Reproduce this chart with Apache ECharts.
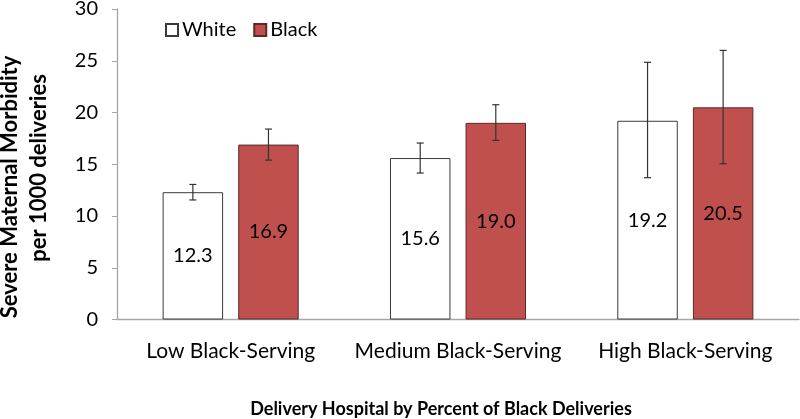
<!DOCTYPE html>
<html>
<head>
<meta charset="utf-8">
<script src="https://cdn.jsdelivr.net/npm/echarts@6/dist/echarts.min.js"></script>
<style>html,body{margin:0;padding:0;background:#fff}#c{width:800px;height:419px}</style>
</head>
<body>
<div id="c"></div>
<script>
const categories = ['Low Black-Serving', 'Medium Black-Serving', 'High Black-Serving'];
const whiteValues = [12.3, 15.6, 19.2];
const blackValues = [16.9, 19.0, 20.5];
const whiteLow = [11.55, 14.15, 13.7];
const whiteHigh = [13.05, 17.05, 24.85];
const blackLow = [15.4, 17.3, 15.05];
const blackHigh = [18.4, 20.75, 26.0];
const yTitleLines = ['Severe Maternal Morbidity', 'per 1000 deliveries'];
const xTitle = 'Delivery Hospital by Percent of Black Deliveries';

const FONT = 'Lato';
const BAR_W = 0.266, GAP = 0.25;

function errData(lo, hi) { return categories.map((c, i) => [i, lo[i], hi[i]]); }
function errSeries(lo, hi, side) {
  return {
    type: 'custom', silent: true, z: 10,
    data: errData(lo, hi),
    encode: { x: 0, y: [1, 2] },
    renderItem: function (params, api) {
      const i = api.value(0);
      const band = api.size([1, 0])[0];
      const off = side * band * BAR_W * (1 + GAP) / 2;
      const p1 = api.coord([i, api.value(1)]);
      const p2 = api.coord([i, api.value(2)]);
      const x = p1[0] + off, cap = 3.5;
      const st = { stroke: '#333', lineWidth: 1.2 };
      return { type: 'group', children: [
        { type: 'line', shape: { x1: x, y1: p1[1], x2: x, y2: p2[1] }, style: st },
        { type: 'line', shape: { x1: x - cap, y1: p1[1], x2: x + cap, y2: p1[1] }, style: st },
        { type: 'line', shape: { x1: x - cap, y1: p2[1], x2: x + cap, y2: p2[1] }, style: st }
      ]};
    }
  };
}

const chart = echarts.init(document.getElementById('c'));
chart.setOption({
  animation: false,
  textStyle: { fontFamily: FONT },
  grid: { left: 117, right: 1, top: 9, bottom: 99.5, containLabel: false, outerBoundsMode: 'none' },
  legend: {
    left: 160, top: 15, itemWidth: 12, itemHeight: 12, itemGap: 17,
    textStyle: { fontFamily: FONT, fontSize: 20, color: '#000', padding: [0, 0, 0, -1] },
    data: [{ name: 'White', icon: 'rect' }, { name: 'Black', icon: 'rect' }]
  },
  graphic: [
    { type: 'text', x: 10, y: 187, rotation: Math.PI / 2, silent: true,
      style: { text: yTitleLines[0], font: 'bold 22px ' + FONT, fill: '#000', align: 'center', verticalAlign: 'middle' } },
    { type: 'text', x: 39, y: 168, rotation: Math.PI / 2, silent: true,
      style: { text: yTitleLines[1], font: 'bold 22px ' + FONT, fill: '#000', align: 'center', verticalAlign: 'middle' } },
    { type: 'text', x: 441, y: 409, silent: true,
      style: { text: xTitle, font: 'bold 18px ' + FONT, fill: '#000', align: 'center', verticalAlign: 'middle' } }
  ],
  xAxis: {
    type: 'category', data: categories,
    axisLine: { lineStyle: { color: '#a6a6a6', width: 1.3 } },
    axisTick: { show: false },
    axisLabel: { interval: 0, fontFamily: FONT, fontSize: 21, color: '#000', margin: 21 }
  },
  yAxis: {
    type: 'value', min: 0, max: 30, interval: 5,
    axisLine: { show: true, lineStyle: { color: '#a6a6a6', width: 1.3 } },
    axisTick: { show: true, length: 5, lineStyle: { color: '#a6a6a6' } },
    splitLine: { show: false },
    axisLabel: { fontFamily: FONT, fontSize: 20, color: '#000', margin: 19 }
  },
  series: [
    {
      name: 'White', type: 'bar', data: whiteValues, barWidth: (BAR_W * 100) + '%', barGap: (GAP * 100) + '%',
      itemStyle: { color: '#ffffff', borderColor: '#3a3a3a', borderWidth: 1 },
      label: { show: true, position: 'inside', formatter: p => p.value.toFixed(1), fontFamily: FONT, fontSize: 20, color: '#000' }
    },
    {
      name: 'Black', type: 'bar', data: blackValues, barWidth: (BAR_W * 100) + '%',
      itemStyle: { color: '#c0504d', borderColor: '#5a2a28', borderWidth: 1 },
      label: { show: true, position: 'inside', formatter: p => p.value.toFixed(1), fontFamily: FONT, fontSize: 20, color: '#000' }
    },
    errSeries(whiteLow, whiteHigh, -1),
    errSeries(blackLow, blackHigh, 1)
  ]
});
</script>
</body>
</html>
